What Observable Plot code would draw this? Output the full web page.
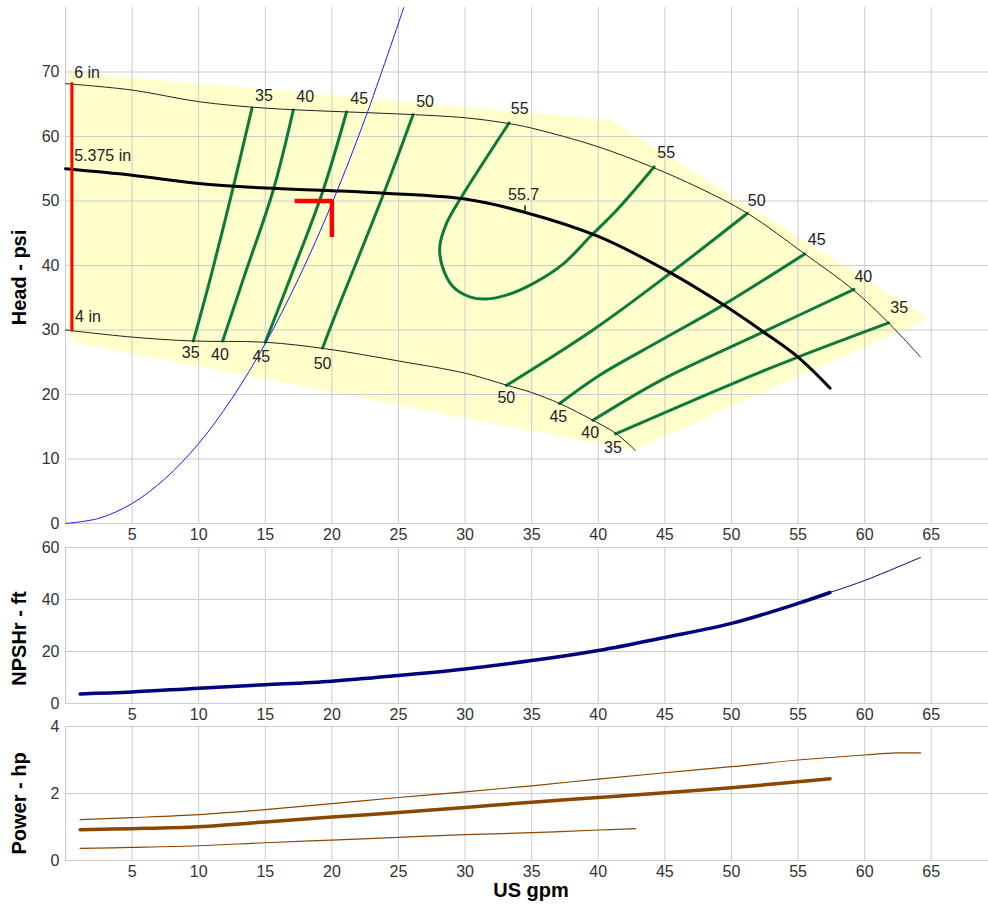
<!DOCTYPE html>
<html><head><meta charset="utf-8">
<script src="https://cdn.jsdelivr.net/npm/d3@7"></script>
<script src="https://cdn.jsdelivr.net/npm/@observablehq/plot@0.6"></script>
<style>
body{margin:0;background:#fff;}
#chart{position:relative;width:988px;height:908px;}
#chart > div{position:absolute;left:0;}
</style></head><body>
<div id="chart"><div id="p1" style="top:0px"></div><div id="p2" style="top:530px"></div><div id="p3" style="top:710px"></div></div>
<script>
// ---- ticks ----
const xTicks = [5,10,15,20,25,30,35,40,45,50,55,60,65];
const xGrid = [0,5,10,15,20,25,30,35,40,45,50,55,60,65];
const headTicks = [0,10,20,30,40,50,60,70];
const npshTicks = [0,20,40,60];
const powerTicks = [0,2,4];

// ---- head panel (gpm, psi) ----
const porRegion = [[0.2,70],[40.9,62.6],[64.8,31.8],[42.6,11.3],[0.7,28.1],[0.2,30]];
const impeller6 = [[0,68.2],[5,67.2],[10,65.4],[15,64.4],[20,63.9],[25,63.5],[30,62.9],[33,62.1],[35,61.3],[40,58.4],[44,55.3],[47.6,52.0],[51.2,48.1],[55.5,41.8],[59.1,36.3],[61.8,31.1],[64.2,25.8]];
const impeller5375 = [[0,55.0],[5,54.0],[10,52.7],[15,52.0],[20,51.6],[24,51.2],[30,50.3],[34.4,48.3],[40,44.5],[45.4,38.9],[49.4,33.9],[52.4,29.7],[55,25.8],[57.4,21.0]];
const impeller4 = [[0,30],[5,28.9],[9.5,28.3],[15,28.1],[19.5,27.1],[25,25.2],[30,23.3],[33.2,21.4],[35,20.3],[37.1,18.6],[39.6,16.0],[41.3,14.0],[42.8,11.3]];
const systemCurve = [[0,0],[2.5,0.8],[5,3.1],[7.5,7.0],[10,12.4],[12.5,19.4],[15,27.9],[17.5,38.0],[20,49.6],[22.5,62.8],[25.4,80]];
const eff35L = [[9.6,28.3],[10.9,38.2],[12.6,52.2],[14.0,64.4]];
const eff40L = [[11.8,28.3],[13.4,38.2],[15.6,51.7],[17.1,64.1]];
const eff45L = [[15.0,28.1],[16.9,38.2],[19.3,51.4],[21.1,63.8]];
const eff50L = [[19.3,27.2],[20.1,31.5],[23.9,51.2],[26.1,63.4]];
const eff55 = [[33.3,62.1],[29.6,50.2],[28.6,46.5],[28.1,42.9],[28.3,39.8],[29.1,36.7],[30.4,35.1],[31.6,34.8],[33.1,35.4],[35.1,37.2],[37.4,40.3],[39.4,44.5],[41.4,48.6],[44.2,55.3]];
const eff50R = [[33.1,21.4],[39.6,30.0],[45.4,38.8],[51.2,48.1]];
const eff45R = [[37.1,18.6],[40.1,23.0],[44.7,28.4],[49.4,33.9],[55.5,41.8]];
const eff40R = [[39.6,16.0],[44.7,22.2],[52.4,29.7],[59.2,36.3]];
const eff35R = [[41.3,13.9],[50.1,21.7],[55.0,25.8],[61.8,31.1]];
const effContours = [eff35L, eff40L, eff45L, eff50L, eff55, eff50R, eff45R, eff40R, eff35R];
const effLabelText = ["35","40","45","50","55","55","50","45","40","35","35","40","45","50","50","45","40","35","55.7"];
const effLabelX = [14.9,18.0,22.05,27.0,34.1,45.1,51.9,56.4,59.9,62.6,9.4,11.6,14.7,19.3,33.1,37.0,39.4,41.1,34.4];
const effLabelY = [66.3,66.1,65.8,65.4,64.3,57.4,50.0,43.9,38.3,33.4,26.4,26.1,25.8,24.8,19.4,16.5,14.0,11.8,50.9];
const bepTick = [[34.5,48.6],[34.5,49.2]];
const impellerNames = ["6 in","5.375 in","4 in"];
const impellerLabelX = [0.65,0.65,0.72];
const impellerLabelY = [69.9,57.0,32.0];
const impellerRange = [[0.48,30],[0.48,68.2]];
const dutyMarker = [[17.2,50],[20,50],[20,44.4]];

// ---- NPSHr panel (gpm, ft) ----
const npshRequired = [[1.1,3.7],[5,4.4],[10,5.9],[15,7.2],[20,8.6],[25,10.8],[30,13.3],[35,16.5],[40,20.4],[45,25.4],[50,30.8],[55,38.5],[57.4,42.7]];
const npshExtended = [[57.4,42.7],[60,47.3],[64.2,56.2]];

// ---- Power panel (gpm, hp) ----
const power5375 = [[1.1,0.92],[5,0.95],[10,1.01],[15,1.15],[20,1.30],[25,1.43],[30,1.58],[35,1.74],[40,1.88],[45,2.02],[50,2.17],[55,2.35],[57.4,2.44]];
const power6 = [[1.1,1.22],[5,1.28],[10,1.37],[15,1.52],[20,1.70],[25,1.88],[30,2.05],[35,2.23],[40,2.43],[45,2.62],[50,2.80],[55,3.0],[60,3.15],[62.4,3.21],[64.2,3.21]];
const power4 = [[1.1,0.36],[5,0.39],[10,0.44],[15,0.53],[20,0.61],[25,0.69],[30,0.77],[35,0.83],[40,0.91],[42.8,0.95]];

// ---- styling ----
const fontFamily = '"Liberation Sans", Arial, sans-serif';
const gridColor = "#cccccc";
const X = d => d[0], Y = d => d[1];
const xDomain = [0, 69.3];
const baseStyle = {background: "transparent", fontFamily, fontSize: "16px", color: "#333", overflow: "visible"};

function frameMarks(yTicks) {
  return [
    Plot.gridX(xGrid, {stroke: gridColor, strokeOpacity: 1, strokeWidth: 1}),
    Plot.gridY(yTicks, {stroke: gridColor, strokeOpacity: 1, strokeWidth: 1}),
    Plot.axisX(xTicks, {tickSize: 0, tickPadding: 5, label: null, fill: "#333", fontSize: 16}),
    Plot.axisY(yTicks, {tickSize: 0, tickPadding: 6, label: null, fill: "#333", fontSize: 16})
  ];
}
function yTitle(t, dy) {
  return Plot.text([t], {text: d => d, frameAnchor: "left", rotate: -90, dx: -46, dy, fontSize: 20, fontWeight: "bold", fill: "#000", textAnchor: "middle", lineAnchor: "middle"});
}
const curve = "catmull-rom";
const green = "#0e7a3a";

const p1 = Plot.plot({
  width: 988, height: 545, marginTop: 7, marginBottom: 22, marginLeft: 65, marginRight: 0,
  style: baseStyle,
  x: {domain: xDomain}, y: {domain: [0, 80]},
  marks: [
    Plot.line(porRegion, {x: X, y: Y, fill: "#ffffcc", stroke: "none"}),
    ...frameMarks(headTicks),
    ...effContours.map(c => Plot.line(c, {x: X, y: Y, stroke: green, strokeWidth: 3, curve})),
    Plot.line(bepTick, {x: X, y: Y, stroke: green, strokeWidth: 2}),
    Plot.line(impeller6, {x: X, y: Y, stroke: "#222", strokeWidth: 1, curve}),
    Plot.line(impeller4, {x: X, y: Y, stroke: "#222", strokeWidth: 1, curve}),
    Plot.line(impeller5375, {x: X, y: Y, stroke: "#000", strokeWidth: 3, curve}),
    Plot.line(systemCurve, {x: X, y: Y, stroke: "#1a1aff", strokeWidth: 1, curve}),
    Plot.line(impellerRange, {x: X, y: Y, stroke: "#ff0000", strokeWidth: 3}),
    Plot.line(dutyMarker, {x: X, y: Y, stroke: "#ff0000", strokeWidth: 4.5, strokeLinejoin: "miter", strokeLinecap: "butt"}),
    Plot.text(effLabelText, {x: (d, i) => effLabelX[i], y: (d, i) => effLabelY[i], text: d => d, fill: "#222", fontSize: 16}),
    Plot.text(impellerNames, {x: (d, i) => impellerLabelX[i], y: (d, i) => impellerLabelY[i], text: d => d, textAnchor: "start", fill: "#222", fontSize: 16}),
    yTitle("Head - psi", 12)
  ]
});
document.getElementById("p1").appendChild(p1);

const p2 = Plot.plot({
  width: 988, height: 195, marginTop: 17, marginBottom: 22, marginLeft: 65, marginRight: 0,
  style: baseStyle,
  x: {domain: xDomain}, y: {domain: [0, 60]},
  marks: [
    ...frameMarks(npshTicks),
    Plot.line(npshExtended, {x: X, y: Y, stroke: "#00007f", strokeWidth: 1, curve}),
    Plot.line(npshRequired, {x: X, y: Y, stroke: "#00007f", strokeWidth: 3.5, curve}),
    yTitle("NPSHr - ft", 13)
  ]
});
document.getElementById("p2").appendChild(p2);

const p3 = Plot.plot({
  width: 988, height: 198, marginTop: 16, marginBottom: 48, marginLeft: 65, marginRight: 0,
  style: baseStyle,
  x: {domain: xDomain}, y: {domain: [0, 4]},
  marks: [
    ...frameMarks(powerTicks),
    Plot.line(power6, {x: X, y: Y, stroke: "#8c4600", strokeWidth: 1.2, curve}),
    Plot.line(power4, {x: X, y: Y, stroke: "#8c4600", strokeWidth: 1.2, curve}),
    Plot.line(power5375, {x: X, y: Y, stroke: "#8c4600", strokeWidth: 3.5, curve}),
    yTitle("Power - hp", 10),
    Plot.text(["US gpm"], {text: d => d, frameAnchor: "bottom", dx: 4, dy: 30, fontSize: 20, fontWeight: "bold", fill: "#000", lineAnchor: "middle"})
  ]
});
document.getElementById("p3").appendChild(p3);
</script>
</body></html>
